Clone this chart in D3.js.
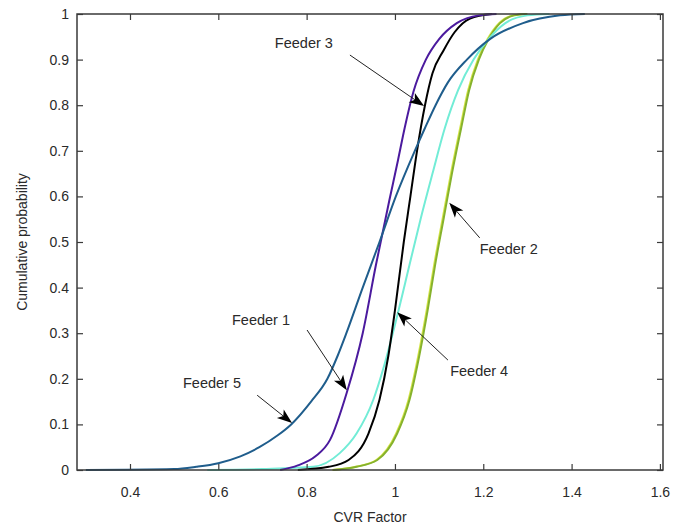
<!DOCTYPE html>
<html><head><meta charset="utf-8">
<script src="https://cdn.jsdelivr.net/npm/d3@7"></script>
<style>
body{margin:0;background:#fff}
svg{display:block}
text{font-family:"Liberation Sans",Arial,Helvetica,sans-serif}
</style>
</head><body>
<svg id="chart" width="696" height="529"></svg>
<script>
// ---- data ----
const xTicks = [0.4, 0.6, 0.8, 1.0, 1.2, 1.4, 1.6];
const xTickLabels = ["0.4", "0.6", "0.8", "1", "1.2", "1.4", "1.6"];
const yTicks = [0, 0.1, 0.2, 0.3, 0.4, 0.5, 0.6, 0.7, 0.8, 0.9, 1.0];
const yTickLabels = ["0", "0.1", "0.2", "0.3", "0.4", "0.5", "0.6", "0.7", "0.8", "0.9", "1"];

const seriesNames = ["Feeder 2", "Feeder 4", "Feeder 3", "Feeder 1", "Feeder 5"];
const seriesColors = ["#86b22c", "#72ecd6", "#000000", "#4b1a9e", "#1f5d8c"];

const feeder1X = [0.74, 0.78, 0.82, 0.853, 0.891, 0.927, 0.957, 0.987, 1.007, 1.022, 1.042, 1.07, 1.10, 1.14, 1.19, 1.23];
const feeder1Y = [0.0, 0.01, 0.03, 0.066, 0.17, 0.30, 0.45, 0.59, 0.68, 0.75, 0.83, 0.90, 0.945, 0.98, 0.997, 1.0];

const feeder2X = [0.86, 0.913, 0.96, 1.005, 1.033, 1.055, 1.074, 1.091, 1.11, 1.129, 1.15, 1.168, 1.19, 1.212, 1.238, 1.27, 1.30];
const feeder2Y = [0.0, 0.007, 0.022, 0.08, 0.154, 0.25, 0.35, 0.45, 0.55, 0.65, 0.75, 0.833, 0.90, 0.945, 0.98, 0.997, 1.0];

const feeder3X = [0.78, 0.85, 0.895, 0.94, 0.965, 0.985, 1.0, 1.02, 1.035, 1.05, 1.068, 1.085, 1.11, 1.135, 1.17, 1.22];
const feeder3Y = [0.0, 0.007, 0.022, 0.08, 0.154, 0.25, 0.35, 0.50, 0.60, 0.70, 0.80, 0.87, 0.92, 0.96, 0.99, 1.0];

const feeder4X = [0.575, 0.70, 0.815, 0.875, 0.913, 0.951, 0.975, 1.003, 1.033, 1.058, 1.085, 1.113, 1.143, 1.178, 1.212, 1.25, 1.30, 1.35];
const feeder4Y = [0.0, 0.002, 0.007, 0.037, 0.08, 0.154, 0.227, 0.33, 0.45, 0.55, 0.65, 0.75, 0.833, 0.90, 0.945, 0.98, 0.997, 1.0];

const feeder5X = [0.30, 0.50, 0.55, 0.60, 0.65, 0.693, 0.733, 0.765, 0.81, 0.847, 0.87, 0.89, 0.927, 0.965, 1.002, 1.045, 1.068, 1.092, 1.12, 1.163, 1.215, 1.29, 1.374, 1.43];
const feeder5Y = [0.0, 0.002, 0.007, 0.015, 0.03, 0.05, 0.075, 0.10, 0.15, 0.20, 0.25, 0.30, 0.40, 0.50, 0.60, 0.70, 0.75, 0.80, 0.85, 0.90, 0.945, 0.98, 0.997, 1.0];

const seriesX = [feeder2X, feeder4X, feeder3X, feeder1X, feeder5X];
const seriesY = [feeder2Y, feeder4Y, feeder3Y, feeder1Y, feeder5Y];

// annotation anchors, in data units
const noteTexts = ["Feeder 3", "Feeder 2", "Feeder 4", "Feeder 1", "Feeder 5"];
const noteTextX = [0.728, 1.192, 1.125, 0.631, 0.52];
const noteTextY = [0.925, 0.474, 0.206, 0.318, 0.18];
const noteFromX = [0.898, 1.192, 1.12, 0.801, 0.688];
const noteFromY = [0.910, 0.509, 0.241, 0.307, 0.164];
const noteTipX = [1.066, 1.123, 1.005, 0.891, 0.767];
const noteTipY = [0.798, 0.586, 0.346, 0.175, 0.103];

// ---- drawing ----
const svg = d3.select("#chart");
const L = 77, R = 663, T = 14, B = 470;
const x = d3.scaleLinear().domain([0.28, 1.607]).range([L, R]);
const y = d3.scaleLinear().domain([0, 1]).range([B, T]);

const axisColor = "#3a3a3a";
const textColor = "#2a2a2a";
const tickLen = 6;

// curves
const line = d3.line().x(d => x(d[0])).y(d => y(d[1])).curve(d3.curveMonotoneX);
seriesNames.forEach((name, i) => {
  const pts = seriesX[i].map((v, k) => [v, seriesY[i][k]]);
  if (name === "Feeder 2") {
    svg.append("path").attr("d", line(pts)).attr("fill", "none")
      .attr("stroke", "#d6e64a").attr("stroke-width", 2)
      .attr("transform", "translate(-1,0)");
  }
  svg.append("path").attr("d", line(pts)).attr("fill", "none")
    .attr("stroke", seriesColors[i]).attr("stroke-width", 2)
    .attr("stroke-linejoin", "round");
});

// axes (MATLAB-style box with inward ticks)
const gB = svg.append("g").attr("transform", `translate(0,${B})`)
  .call(d3.axisBottom(x).tickValues(xTicks).tickFormat((d, i) => xTickLabels[i]).tickSizeInner(-tickLen).tickSizeOuter(0).tickPadding(17));
const gT = svg.append("g").attr("transform", `translate(0,${T})`)
  .call(d3.axisTop(x).tickValues(xTicks).tickFormat("").tickSizeInner(-tickLen).tickSizeOuter(0));
const gL = svg.append("g").attr("transform", `translate(${L},0)`)
  .call(d3.axisLeft(y).tickValues(yTicks).tickFormat((d, i) => yTickLabels[i]).tickSizeInner(-tickLen).tickSizeOuter(0).tickPadding(8));
const gR = svg.append("g").attr("transform", `translate(${R},0)`)
  .call(d3.axisRight(y).tickValues(yTicks).tickFormat("").tickSizeInner(-tickLen).tickSizeOuter(0));
[gB, gT, gL, gR].forEach(g => {
  g.select(".domain").remove();
  g.selectAll(".tick line").attr("stroke", axisColor).attr("stroke-width", 1.2);
  g.selectAll(".tick text").attr("fill", textColor).attr("font-size", 14)
    .attr("font-family", "'Liberation Sans', Arial, sans-serif");
});
svg.append("rect").attr("x", L).attr("y", T).attr("width", R - L).attr("height", B - T)
  .attr("fill", "none").attr("stroke", axisColor).attr("stroke-width", 1.5);

// axis titles
svg.append("text").attr("x", (L + R) / 2).attr("y", 522).attr("text-anchor", "middle")
  .attr("font-size", 14).attr("fill", textColor).text("CVR Factor");
svg.append("text").attr("transform", `translate(27,${(T + B) / 2}) rotate(-90)`)
  .attr("text-anchor", "middle").attr("font-size", 14).attr("fill", textColor).text("Cumulative probability");

// annotations with arrows
noteTexts.forEach((t, i) => {
  svg.append("text").attr("x", x(noteTextX[i])).attr("y", y(noteTextY[i]))
    .attr("font-size", 14.5).attr("fill", textColor).text(t);
  const x0 = x(noteFromX[i]), y0 = y(noteFromY[i]);
  const x1 = x(noteTipX[i]), y1 = y(noteTipY[i]);
  const a = Math.atan2(y1 - y0, x1 - x0);
  const len = 15, hw = 5.5;
  const bx = x1 - len * Math.cos(a), by = y1 - len * Math.sin(a);
  const nx = x1 - len * 0.75 * Math.cos(a), ny = y1 - len * 0.75 * Math.sin(a);
  const px = -Math.sin(a), py = Math.cos(a);
  svg.append("line").attr("x1", x0).attr("y1", y0).attr("x2", nx).attr("y2", ny)
    .attr("stroke", "#222").attr("stroke-width", 1);
  svg.append("path")
    .attr("d", `M${x1},${y1}L${bx + px * hw},${by + py * hw}L${nx},${ny}L${bx - px * hw},${by - py * hw}Z`)
    .attr("fill", "#000");
});
</script>
</body></html>
